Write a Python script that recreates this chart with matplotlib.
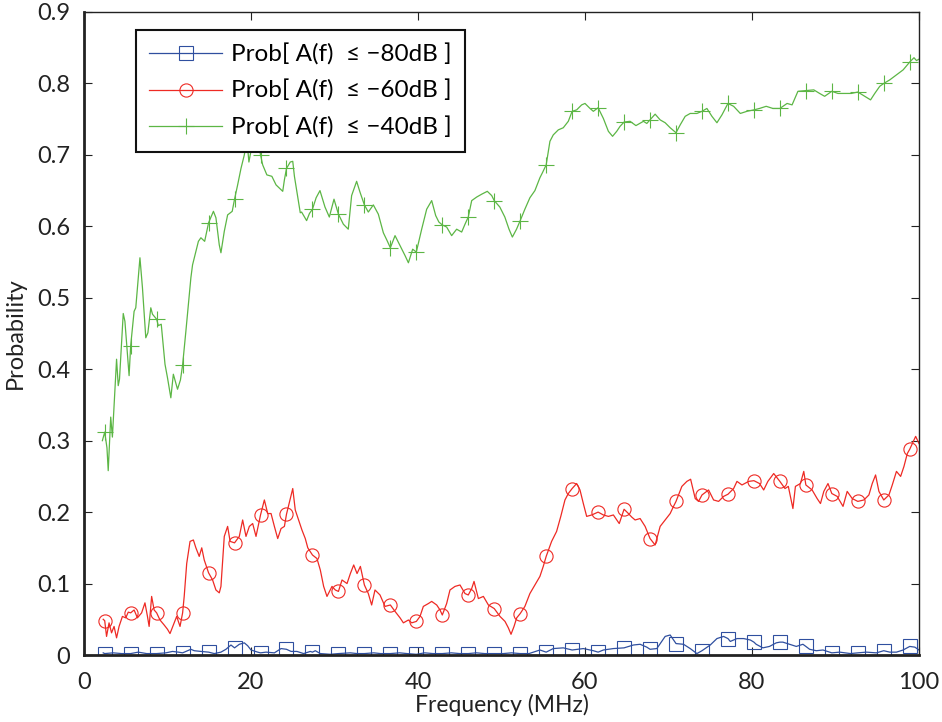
import numpy as np
import matplotlib
matplotlib.use("Agg")
import matplotlib.pyplot as plt

plt.rcParams['font.family'] = ['Lato', 'DejaVu Sans']

# Frequencies (MHz) at which the marker symbols sit
marker_freq = [2.48 + 3.11 * k for k in range(32)]

# Prob[A(f) <= -80 dB]
f_80 = [2.3, 2.48, 3.5, 4.5, 5.59, 6.5, 7.5, 8.70, 9.8, 10.6, 11.3, 11.81, 12.8, 13.2, 14.0,
        14.92, 15.6, 16.4, 17.0, 17.6, 18.03, 18.6, 19.2, 19.6, 20.0, 20.8, 21.14, 21.8, 22.8,
        23.6, 24.25, 24.8, 25.5, 26.3, 27.1, 27.36, 27.7, 28.3, 29.5, 30.47, 31.9, 32.7, 33.58,
        34.7, 35.5, 36.69, 37.8, 38.7, 39.80, 40.8, 41.8, 42.91, 44.0, 45.0, 46.02, 47.0, 48.0,
        49.13, 50.2, 51.2, 52.24, 53.3, 54.6, 55.35, 56.2, 57.4, 58.46, 59.8, 61.0, 61.57, 62.2,
        63.4, 64.68, 65.8, 66.6, 67.4, 67.79, 68.6, 69.6, 70.2, 70.90, 71.8, 72.6, 73.4, 74.01,
        75.0, 75.8, 76.6, 77.12, 77.4, 78.2, 79.0, 79.8, 80.23, 80.5, 81.3, 82.1, 82.9, 83.34,
        83.7, 84.5, 85.3, 86.1, 86.45, 86.9, 87.7, 88.5, 89.56, 90.5, 91.8, 92.67, 93.7, 94.9,
        95.78, 96.5, 97.3, 98.1, 98.89, 99.5, 100.0]
p_80 = [0.003, 0.002, 0.003, 0.002, 0.002, 0.004, 0.002, 0.002, 0.003, 0.005, 0.004, 0.003, 0.008,
        0.006, 0.005, 0.004, 0.002, 0.004, 0.008, 0.014, 0.010, 0.015, 0.017, 0.013, 0.007, 0.004,
        0.003, 0.004, 0.003, 0.009, 0.008, 0.005, 0.005, 0.002, 0.005, 0.004, 0.006, 0.002, 0.001,
        0.002, 0.003, 0.002, 0.002, 0.003, 0.002, 0.002, 0.003, 0.002, 0.001, 0.003, 0.002, 0.002,
        0.003, 0.002, 0.002, 0.003, 0.002, 0.002, 0.002, 0.003, 0.002, 0.002, 0.007, 0.004, 0.009,
        0.010, 0.007, 0.009, 0.006, 0.004, 0.007, 0.009, 0.010, 0.014, 0.015, 0.011, 0.008, 0.009,
        0.026, 0.028, 0.016, 0.015, 0.009, 0.002, 0.006, 0.014, 0.023, 0.026, 0.023, 0.019, 0.023,
        0.023, 0.021, 0.018, 0.015, 0.010, 0.012, 0.017, 0.018, 0.018, 0.015, 0.012, 0.015, 0.012,
        0.008, 0.006, 0.007, 0.003, 0.004, 0.002, 0.003, 0.004, 0.003, 0.006, 0.004, 0.004, 0.007,
        0.012, 0.011, 0.007]

# Prob[A(f) <= -60 dB]
f_60 = [2.3, 2.48, 2.7, 3.0, 3.3, 3.6, 3.9, 4.2, 4.6, 5.0, 5.3, 5.59, 6.0, 6.4, 6.9, 7.3, 7.6, 7.8,
        8.1, 8.4, 8.70, 9.1, 9.6, 10.0, 10.3, 10.7, 11.1, 11.5, 11.81, 12.0, 12.3, 12.7, 13.1, 13.4,
        13.8, 14.1, 14.4, 14.92, 15.4, 15.8, 16.2, 16.4, 16.8, 17.2, 17.5, 18.03, 18.6, 19.0, 19.4,
        19.8, 20.2, 20.6, 21.14, 21.6, 22.0, 22.4, 22.8, 23.2, 23.6, 24.0, 24.25, 24.7, 25.0, 25.3,
        25.7, 26.1, 26.5, 26.8, 27.36, 27.9, 28.3, 28.7, 29.1, 29.7, 30.1, 30.47, 30.9, 31.5, 31.9,
        32.3, 32.7, 33.1, 33.58, 34.05, 34.45, 34.85, 35.45, 36.05, 36.69, 37.25, 37.85, 38.25,
        38.85, 39.25, 39.80, 40.24, 40.64, 41.24, 41.64, 42.24, 42.64, 42.91, 43.43, 43.83, 44.43,
        45.03, 45.63, 46.02, 46.43, 46.71, 47.23, 47.83, 48.43, 49.13, 49.82, 50.42, 50.82, 51.14,
        51.5, 51.82, 52.24, 52.8, 53.4, 54.0, 54.6, 55.0, 55.35, 56.0, 56.6, 57.1, 57.6, 58.0, 58.46,
        59.0, 59.4, 59.8, 60.2, 60.8, 61.57, 62.2, 62.8, 63.4, 64.1, 64.68, 65.2, 65.6, 66.0, 66.6,
        67.2, 67.79, 68.4, 69.0, 69.6, 70.2, 70.6, 70.90, 71.6, 72.2, 72.65, 73.2, 73.6, 74.01,
        74.8, 75.4, 76.0, 76.6, 77.12, 77.8, 78.2, 78.8, 79.6, 80.23, 80.9, 81.4, 81.9, 82.6, 83.34,
        83.95, 84.35, 84.9, 85.2, 85.8, 86.2, 86.45, 87.2, 87.8, 88.2, 88.6, 89.1, 89.56, 90.2,
        90.9, 91.4, 92.0, 92.67, 93.4, 94.0, 94.4, 94.8, 95.2, 95.78, 96.4, 96.8, 97.3, 97.8, 98.2,
        98.6, 98.89, 99.6, 100.0]
p_60 = [0.050, 0.048, 0.026, 0.045, 0.031, 0.040, 0.024, 0.040, 0.054, 0.052, 0.060, 0.059, 0.063,
        0.052, 0.059, 0.073, 0.054, 0.040, 0.082, 0.063, 0.059, 0.049, 0.042, 0.036, 0.030, 0.042,
        0.054, 0.040, 0.059, 0.082, 0.128, 0.159, 0.161, 0.150, 0.138, 0.150, 0.133, 0.115, 0.105,
        0.091, 0.087, 0.096, 0.166, 0.180, 0.159, 0.157, 0.166, 0.189, 0.166, 0.180, 0.184, 0.166,
        0.196, 0.217, 0.198, 0.198, 0.180, 0.163, 0.177, 0.180, 0.197, 0.219, 0.233, 0.203, 0.189,
        0.175, 0.163, 0.150, 0.140, 0.135, 0.119, 0.096, 0.082, 0.096, 0.091, 0.089, 0.105, 0.100,
        0.114, 0.126, 0.114, 0.124, 0.098, 0.086, 0.070, 0.091, 0.084, 0.068, 0.070, 0.061, 0.052,
        0.045, 0.049, 0.045, 0.047, 0.054, 0.068, 0.072, 0.075, 0.070, 0.063, 0.056, 0.072, 0.091,
        0.096, 0.098, 0.086, 0.084, 0.093, 0.103, 0.079, 0.082, 0.070, 0.065, 0.054, 0.047, 0.038,
        0.029, 0.040, 0.052, 0.058, 0.068, 0.086, 0.098, 0.110, 0.124, 0.138, 0.159, 0.173, 0.194,
        0.217, 0.226, 0.233, 0.240, 0.231, 0.212, 0.194, 0.196, 0.200, 0.196, 0.194, 0.196, 0.184,
        0.204, 0.198, 0.193, 0.189, 0.191, 0.180, 0.163, 0.154, 0.180, 0.189, 0.198, 0.208, 0.215,
        0.236, 0.243, 0.246, 0.219, 0.215, 0.224, 0.231, 0.217, 0.215, 0.222, 0.225, 0.233, 0.243,
        0.238, 0.243, 0.244, 0.240, 0.231, 0.243, 0.254, 0.243, 0.233, 0.236, 0.205, 0.236, 0.240,
        0.257, 0.238, 0.231, 0.219, 0.212, 0.229, 0.240, 0.226, 0.222, 0.208, 0.229, 0.219, 0.215,
        0.217, 0.224, 0.240, 0.252, 0.229, 0.217, 0.224, 0.238, 0.257, 0.250, 0.264, 0.282, 0.288,
        0.306, 0.296]

# Prob[A(f) <= -40 dB]
f_40 = [2.2, 2.48, 2.75, 2.9, 3.2, 3.4, 3.9, 4.1, 4.25, 4.7, 4.9, 5.4, 5.59, 6.0, 6.2, 6.7, 7.0,
        7.4, 7.65, 8.0, 8.2, 8.70, 8.9, 9.25, 9.7, 10.0, 10.4, 10.7, 11.2, 11.55, 11.81, 12.2, 12.8,
        13.0, 13.7, 14.0, 14.45, 14.92, 15.5, 15.8, 16.2, 16.4, 16.8, 17.2, 17.75, 18.03, 18.4,
        18.8, 19.2, 19.5, 19.75, 20.1, 20.5, 20.9, 21.14, 21.4, 21.9, 22.5, 23.0, 23.8, 24.0, 24.25,
        24.7, 25.0, 25.2, 25.5, 25.9, 26.06, 26.66, 27.0, 27.36, 27.8, 28.26, 28.86, 29.38, 29.94,
        30.47, 31.06, 31.65, 32.05, 32.65, 33.05, 33.58, 34.05, 34.65, 35.25, 35.85, 36.3, 36.69,
        37.25, 37.85, 38.45, 38.85, 39.36, 39.80, 40.44, 41.04, 41.64, 42.12, 42.5, 42.91, 43.43,
        44.03, 44.63, 45.23, 45.63, 46.02, 46.43, 47.03, 47.63, 48.3, 48.83, 49.13, 49.8, 50.4,
        50.9, 51.3, 51.8, 52.24, 52.8, 53.4, 54.0, 54.6, 54.9, 55.35, 55.8, 56.2, 56.8, 57.4, 58.0,
        58.46, 59.0, 59.6, 60.0, 60.6, 61.0, 61.57, 62.2, 62.8, 63.3, 63.8, 64.2, 64.68, 65.4, 66.1,
        67.0, 67.4, 67.79, 68.4, 69.0, 69.6, 70.2, 70.90, 71.4, 72.0, 72.6, 73.4, 74.01, 74.6, 75.2,
        75.8, 76.4, 77.12, 77.8, 78.6, 79.4, 80.23, 80.9, 81.7, 82.5, 83.34, 84.2, 84.8, 85.5, 86.45,
        87.4, 88.1, 88.7, 89.56, 90.3, 91.1, 91.9, 92.67, 93.5, 94.2, 94.7, 95.3, 95.78, 96.5, 97.3,
        98.1, 98.89, 99.4, 99.7, 100.0]
p_40 = [0.300, 0.312, 0.290, 0.258, 0.333, 0.305, 0.414, 0.377, 0.386, 0.478, 0.467, 0.391, 0.433,
        0.481, 0.486, 0.556, 0.514, 0.444, 0.451, 0.486, 0.477, 0.470, 0.461, 0.463, 0.407, 0.388,
        0.360, 0.393, 0.372, 0.385, 0.406, 0.453, 0.528, 0.546, 0.579, 0.584, 0.579, 0.605, 0.621,
        0.612, 0.574, 0.563, 0.593, 0.616, 0.621, 0.638, 0.658, 0.681, 0.700, 0.722, 0.690, 0.712,
        0.705, 0.718, 0.700, 0.686, 0.672, 0.670, 0.658, 0.649, 0.665, 0.681, 0.690, 0.691, 0.670,
        0.648, 0.619, 0.620, 0.608, 0.618, 0.624, 0.640, 0.650, 0.627, 0.613, 0.638, 0.617, 0.603,
        0.596, 0.643, 0.663, 0.648, 0.630, 0.620, 0.630, 0.617, 0.591, 0.580, 0.570, 0.587, 0.573,
        0.559, 0.549, 0.568, 0.564, 0.596, 0.624, 0.636, 0.615, 0.606, 0.602, 0.599, 0.587, 0.596,
        0.592, 0.603, 0.613, 0.636, 0.641, 0.645, 0.649, 0.643, 0.636, 0.627, 0.613, 0.596, 0.585,
        0.596, 0.608, 0.624, 0.640, 0.650, 0.668, 0.675, 0.686, 0.719, 0.728, 0.735, 0.738, 0.747,
        0.761, 0.763, 0.770, 0.772, 0.765, 0.761, 0.766, 0.751, 0.733, 0.726, 0.733, 0.740, 0.746,
        0.747, 0.741, 0.747, 0.744, 0.749, 0.757, 0.749, 0.745, 0.738, 0.731, 0.742, 0.754, 0.758,
        0.758, 0.761, 0.765, 0.754, 0.745, 0.756, 0.772, 0.768, 0.758, 0.761, 0.763, 0.765, 0.768,
        0.765, 0.765, 0.772, 0.770, 0.789, 0.790, 0.791, 0.786, 0.782, 0.789, 0.786, 0.786, 0.786,
        0.788, 0.782, 0.777, 0.786, 0.796, 0.800, 0.805, 0.812, 0.819, 0.830, 0.836, 0.832, 0.834]

series = [
    (f_80, p_80, '#2f4f9f', 's', u'Prob[ A(f)  \u2264 \u221280dB ]'),
    (f_60, p_60, '#ee2a24', 'o', u'Prob[ A(f)  \u2264 \u221260dB ]'),
    (f_40, p_40, '#5cb645', '+', u'Prob[ A(f)  \u2264 \u221240dB ]'),
]

fig = plt.figure(figsize=(9.42, 7.22), dpi=100)
ax = fig.add_axes([84 / 942, 1 - 655 / 722, (919 - 84) / 942, (655 - 12) / 722])

for f, p, color, mk, label in series:
    f = np.asarray(f)
    idx = sorted({int(np.argmin(np.abs(f - m))) for m in marker_freq})
    ms = 12 if mk == '+' else 9.5
    ax.plot(f, p, color=color, lw=0.9, marker=mk, markevery=idx, markersize=ms,
            markerfacecolor='none', markeredgecolor=color, markeredgewidth=0.8, label=label)

ax.set_xlim(0, 100)
ax.set_ylim(0, 0.9)
ax.set_xticks([0, 20, 40, 60, 80, 100])
ax.set_yticks(np.arange(0, 0.91, 0.1))
ax.set_yticklabels(['0' if v == 0 else f'{v:.1f}' for v in np.arange(0, 0.91, 0.1)])
ax.tick_params(direction='in', length=6, width=0.8, top=True, right=True,
               labelsize=17, colors='#222222')
ax.tick_params(axis='x', pad=12)
ax.tick_params(axis='y', pad=10)
for side in ['left', 'bottom']:
    ax.spines[side].set_linewidth(2.0)
for side in ['top', 'right']:
    ax.spines[side].set_linewidth(1.0)
for s in ax.spines.values():
    s.set_color('#222222')

ax.set_xlabel('Frequency (MHz)', fontsize=16.5, labelpad=1, color='#222222')
ax.set_ylabel('Probability', fontsize=17, labelpad=8, color='#222222')

leg = ax.legend(loc='upper left', bbox_to_anchor=(52 / 835, 1 - 18 / 643), fontsize=17.5,
                handlelength=3.0, handletextpad=0.35, borderpad=0.55, labelspacing=0.6,
                fancybox=False, framealpha=1, edgecolor='#111111', numpoints=1, borderaxespad=0)
leg.get_frame().set_linewidth(1.5)

fig.savefig('out.png', dpi=100)
